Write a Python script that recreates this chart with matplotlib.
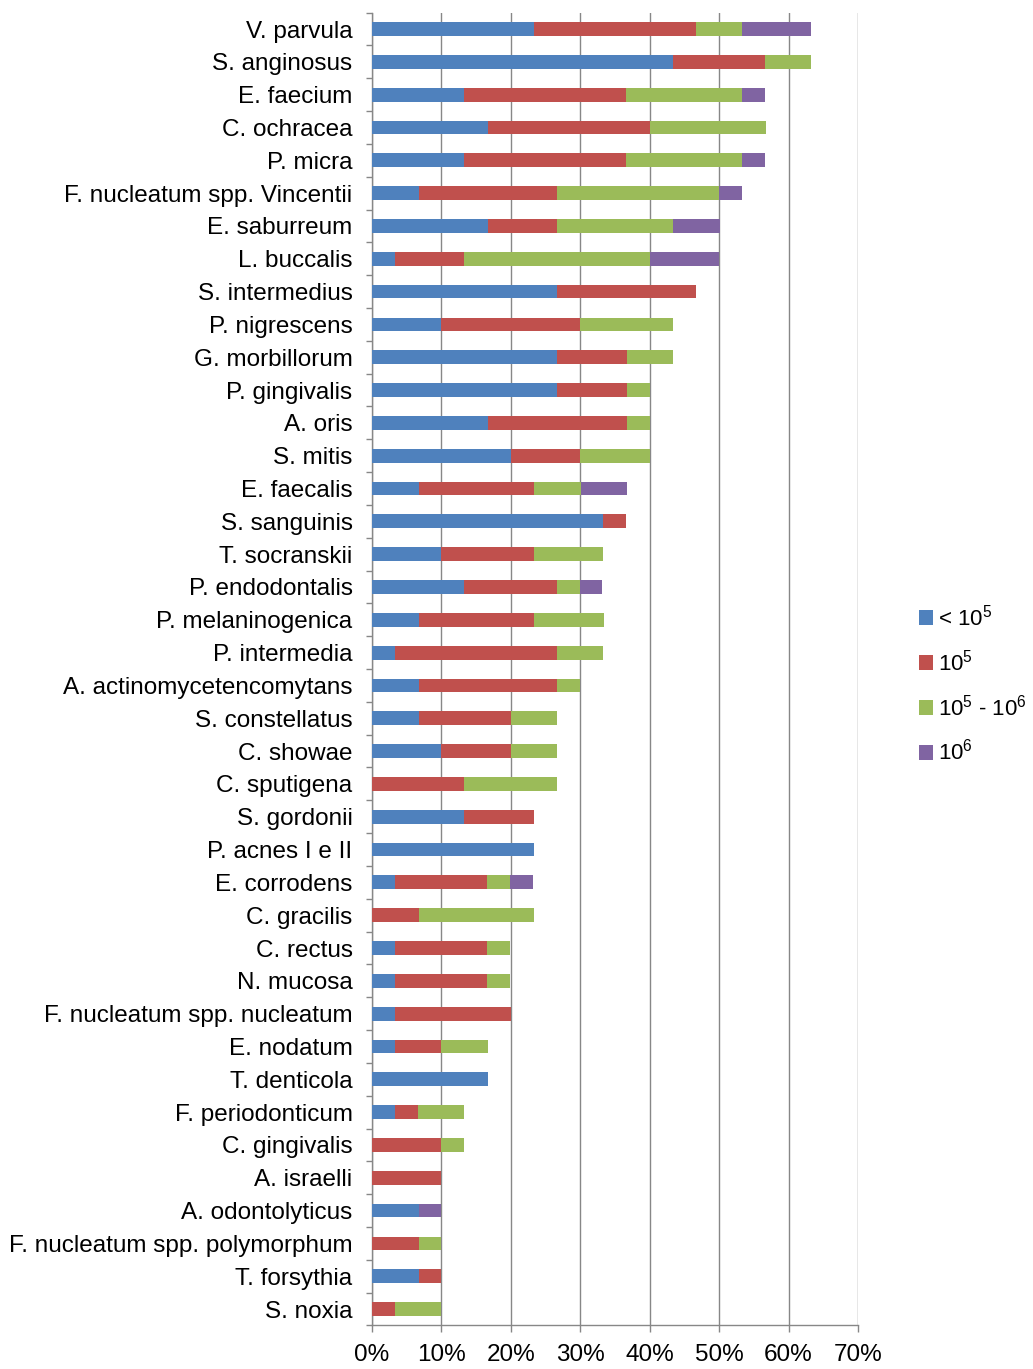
import matplotlib
matplotlib.use("Agg")
import matplotlib.pyplot as plt
import numpy as np

plt.rcParams['font.family'] = ['Liberation Sans', 'DejaVu Sans']
plt.rcParams['mathtext.fontset'] = 'custom'
plt.rcParams['mathtext.rm'] = 'Liberation Sans'
plt.rcParams['mathtext.it'] = 'Liberation Sans'

species = [
    "V. parvula", "S. anginosus", "E. faecium", "C. ochracea", "P. micra",
    "F. nucleatum spp. Vincentii", "E. saburreum", "L. buccalis", "S. intermedius",
    "P. nigrescens", "G. morbillorum", "P. gingivalis", "A. oris", "S. mitis",
    "E. faecalis", "S. sanguinis", "T. socranskii", "P. endodontalis",
    "P. melaninogenica", "P. intermedia", "A. actinomycetencomytans",
    "S. constellatus", "C. showae", "C. sputigena", "S. gordonii", "P. acnes I e II",
    "E. corrodens", "C. gracilis", "C. rectus", "N. mucosa",
    "F. nucleatum spp. nucleatum", "E. nodatum", "T. denticola", "F. periodonticum",
    "C. gingivalis", "A. israelli", "A. odontolyticus",
    "F. nucleatum spp. polymorphum", "T. forsythia", "S. noxia",
]

# Share of samples (%) per load class
below_1e5 = [23.3, 43.3, 13.3, 16.7, 13.3, 6.7, 16.7, 3.3, 26.7, 10.0,
             26.7, 26.7, 16.7, 20.0, 6.7, 33.3, 10.0, 13.3, 6.7, 3.3,
             6.7, 6.7, 10.0, 0.0, 13.3, 23.3, 3.3, 0.0, 3.3, 3.3,
             3.3, 3.3, 16.7, 3.3, 0.0, 0.0, 6.7, 0.0, 6.7, 0.0]
at_1e5 = [23.3, 13.3, 23.3, 23.3, 23.3, 20.0, 10.0, 10.0, 20.0, 20.0,
          10.0, 10.0, 20.0, 10.0, 16.7, 3.3, 13.3, 13.3, 16.7, 23.3,
          20.0, 13.3, 10.0, 13.3, 10.0, 0.0, 13.3, 6.7, 13.3, 13.3,
          16.7, 6.7, 0.0, 3.3, 10.0, 10.0, 0.0, 6.7, 3.3, 3.3]
between_1e5_1e6 = [6.7, 6.7, 16.7, 16.7, 16.7, 23.3, 16.7, 26.7, 0.0, 13.3,
                   6.7, 3.3, 3.3, 10.0, 6.7, 0.0, 10.0, 3.3, 10.0, 6.7,
                   3.3, 6.7, 6.7, 13.3, 0.0, 0.0, 3.3, 16.7, 3.3, 3.3,
                   0.0, 6.7, 0.0, 6.7, 3.3, 0.0, 0.0, 3.3, 0.0, 6.7]
at_1e6 = [10.0, 0.0, 3.3, 0.0, 3.3, 3.3, 6.7, 10.0, 0.0, 0.0,
          0.0, 0.0, 0.0, 0.0, 6.7, 0.0, 0.0, 3.3, 0.0, 0.0,
          0.0, 0.0, 0.0, 0.0, 0.0, 0.0, 3.3, 0.0, 0.0, 0.0,
          0.0, 0.0, 0.0, 0.0, 0.0, 0.0, 3.3, 0.0, 0.0, 0.0]

series_labels = [r"< 10$^5$", r"10$^5$", r"10$^5$ - 10$^6$", r"10$^6$"]
colors = ["#4F81BD", "#C0504D", "#9BBB59", "#8064A2"]
x_ticks = [0, 10, 20, 30, 40, 50, 60, 70]

fig = plt.figure(figsize=(10.33, 13.69), dpi=100)
ax = fig.add_axes([0.3601, 0.0318, 0.4705, 0.9590])

y = np.arange(len(species))
left = np.zeros(len(species))
for vals, lab, col in zip([below_1e5, at_1e5, between_1e5_1e6, at_1e6],
                          series_labels, colors):
    vals = np.array(vals)
    ax.barh(y, vals, left=left, height=0.42, color=col, label=lab, zorder=3)
    left += vals

ax.set_ylim(len(species) - 0.5, -0.5)
ax.set_xlim(0, 70)

grid_col = "#878787"
ax.set_xticks(x_ticks)
ax.set_xticklabels([f"{t}%" for t in x_ticks])
ax.xaxis.grid(True, color=grid_col, linewidth=1.0, zorder=0)

ax.set_yticks(y)
ax.set_yticklabels(species)
ax.set_yticks(np.arange(len(species) + 1) - 0.5, minor=True)
ax.tick_params(axis='y', which='major', length=0, pad=14, labelsize=17.5)
ax.tick_params(axis='y', which='minor', length=4.5, color=grid_col, width=1.0)
ax.tick_params(axis='x', which='major', length=5, color=grid_col, width=1.0,
               pad=8, labelsize=17.5)

for side in ("top", "right"):
    ax.spines[side].set_visible(False)
for side in ("left", "bottom"):
    ax.spines[side].set_color(grid_col)
    ax.spines[side].set_linewidth(1.0)

ax.legend(loc="center left", bbox_to_anchor=(1.125, 0.488), frameon=False,
          fontsize=16, handlelength=0.65, handleheight=0.65, handletextpad=0.2,
          labelspacing=0.85, borderaxespad=0, borderpad=0)

fig.savefig("out.png", dpi=100, facecolor="white")
